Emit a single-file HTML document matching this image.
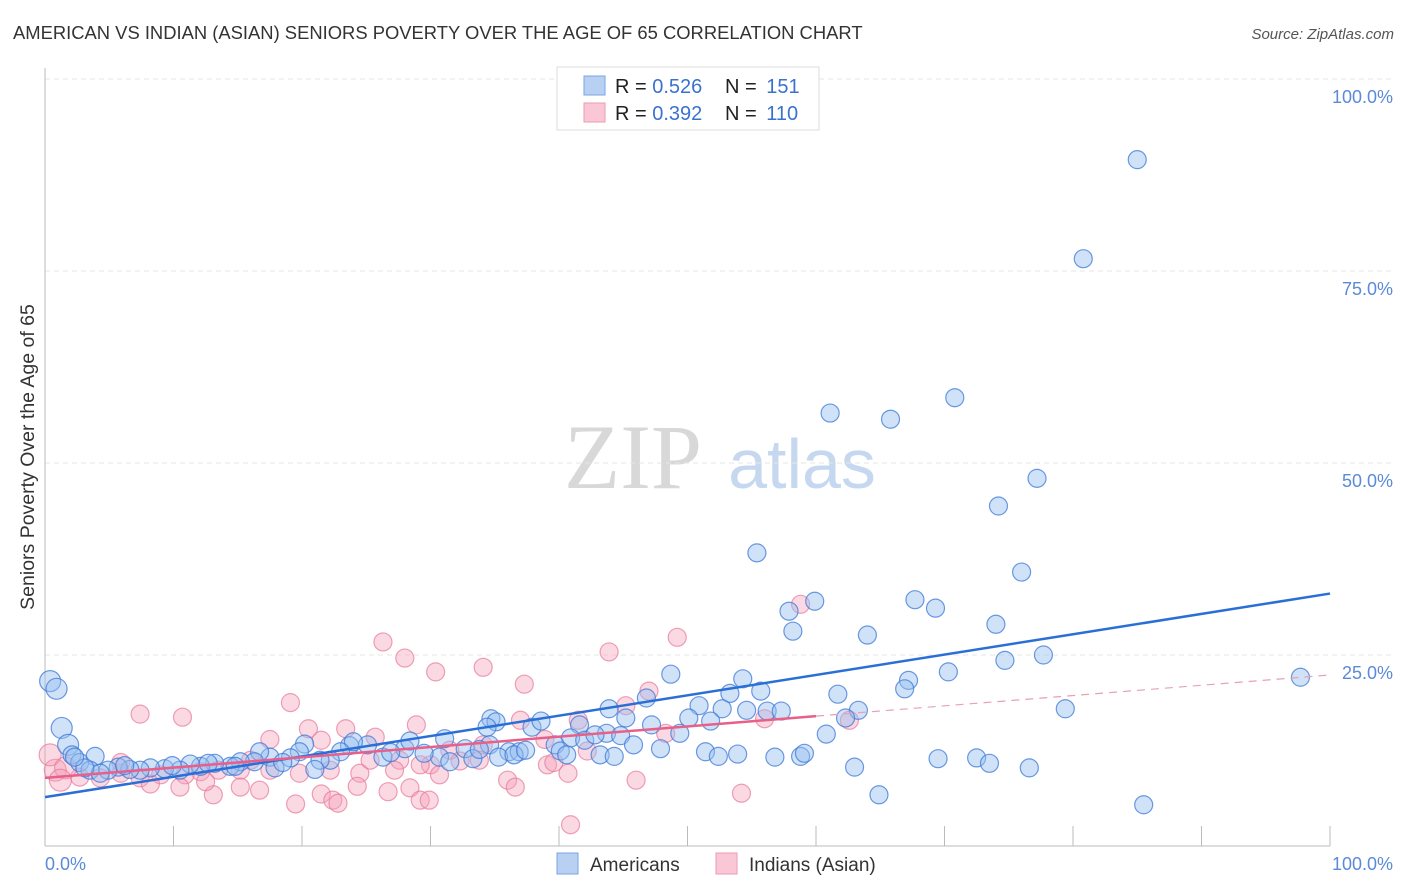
<!DOCTYPE html>
<html><head><meta charset="utf-8"><style>
body{margin:0;background:#fff;font-family:"Liberation Sans",sans-serif;}
#wrap{position:relative;width:1406px;height:892px;overflow:hidden;}
</style></head><body>
<div id="wrap">
<svg id="svg" width="1406" height="892" xmlns="http://www.w3.org/2000/svg">
<text x="13" y="39" font-size="18.4" fill="#333">AMERICAN VS INDIAN (ASIAN) SENIORS POVERTY OVER THE AGE OF 65 CORRELATION CHART</text>
<text x="1394" y="39" font-size="15" fill="#555" font-style="italic" text-anchor="end">Source: ZipAtlas.com</text>
<text x="0" y="0" transform="translate(34,457) rotate(-90)" font-size="19.5" fill="#333" text-anchor="middle">Seniors Poverty Over the Age of 65</text>
<g><text x="633" y="488" font-size="92" font-family="Liberation Serif" fill="#d8d8d8" text-anchor="middle">ZIP</text><text x="802" y="488" font-size="70" fill="#c6d8f0" text-anchor="middle">atlas</text></g>
<g id="grid"></g><g id="axes"></g><g id="pts"></g><g id="lines"></g>
<g>
<rect x="557" y="67" width="262" height="63" fill="#fff" stroke="#ddd"/>
<rect x="584" y="76" width="21" height="19" fill="#b8d0f2" stroke="#7aa5e4"/>
<rect x="584" y="103" width="21" height="19" fill="#f9c7d5" stroke="#ee9ab3"/>
<text x="615" y="93" font-size="20" fill="#222">R = <tspan fill="#3a72cf">0.526</tspan></text>
<text x="725" y="93" font-size="20" fill="#222">N = <tspan fill="#3a72cf" dx="4">151</tspan></text>
<text x="615" y="120" font-size="20" fill="#222">R = <tspan fill="#3a72cf">0.392</tspan></text>
<text x="725" y="120" font-size="20" fill="#222">N = <tspan fill="#3a72cf" dx="4">110</tspan></text>
</g>
<g>
<rect x="557" y="853" width="21" height="21" fill="#b8d0f2" stroke="#7aa5e4"/>
<text x="590" y="871" font-size="19" fill="#333">Americans</text>
<rect x="716" y="853" width="21" height="21" fill="#f9c7d5" stroke="#ee9ab3"/>
<text x="749" y="871" font-size="19" fill="#333">Indians (Asian)</text>
</g>
</svg>
</div>
<script>
const yTicks=[25,50,75,100];
const yTickLabels=["25.0%","50.0%","75.0%","100.0%"];
const xEndLabels=["0.0%","100.0%"];
const blueX=[0.4,0.9,1.3,1.8,2.1,3.9,2.7,3.5,85,80.8,70.8,61.1,65.8,77.2,74.2,55.4,76,59.9,67.7,69.3,57.9,58.2,74,64,74.7,77.7,97.7,70.3,67.2,66.9,48.7,54.3,61.7,79.4,63.3,62.3,60.8,63,64.9,69.5,72.5,73.5,76.6,85.5,55.7,53.3,52.7,54.6,56.2,57.3,50.9,50.1,51.8,49.4,46.8,43.9,45.2,47.2,43.7,44.8,45.8,47.9,51.4,52.4,53.9,56.8,58.8,59.1,34.7,35.1,34.4,37.9,38.6,41.6,40.9,39.7,42,42.8,34.6,36.1,36.9,35.3,36.5,43.2,44.3,40.1,40.6,31.1,32.7,33.3,30.7,31.5,28,28.4,26.3,25.1,23.7,24,23,22.2,20.2,19.8,19.1,17.5,16.7,16.3,15.2,14.4,13.2,12.1,11.3,10.5,9.3,8.2,7.4,6.6,5.7,4.9,4.3,3.1,2.3,17.9,21.4,21,12.7,9.9,6.2,14.8,18.5,26.9,29.5,33.8,37.4];
const blueY=[21.6,20.6,15.5,13.3,12,11.8,11,10,89.5,76.6,58.5,56.5,55.7,48,44.4,38.3,35.8,32,32.2,31.1,30.7,28.1,29,27.6,24.3,25,22.1,22.8,21.7,20.6,22.5,21.9,19.9,18,17.8,16.8,14.7,10.4,6.8,11.5,11.6,10.9,10.3,5.5,20.3,20,18,17.8,17.7,17.7,18.4,16.8,16.4,14.8,19.4,18,16.8,15.9,14.8,14.5,13.3,12.8,12.4,11.8,12.1,11.7,11.8,12.2,16.7,16.3,15.6,15.6,16.4,15.9,14.2,13.3,13.9,14.6,13.3,12.4,12.4,11.7,12,12,11.8,12.5,12,14.1,12.8,11.5,11.7,11.1,12.8,13.8,11.7,13.3,13.2,13.7,12.4,11.3,13.4,12.4,11.6,11.7,12.4,11.1,11.1,10.5,10.9,10.5,10.8,10,10.2,10.3,10,10.1,10.4,10,9.6,10.3,11.7,10.3,11.3,10.1,10.9,10.6,10.6,10.5,11,12.3,12.2,12.7,12.6];
const pinkX=[26.3,28,30.4,34.1,37.3,43.9,49.2,47,45.2,58.8,7.4,10.7,19.1,56,62.6,41.5,37,28.9,23.4,20.5,17.5,21.5,25.7,34.1,38.9,48.3,42.2,31.5,32.3,30,29.2,27.6,27.2,24.5,22.2,19.8,17.5,15.2,13.5,12.1,10.9,9,7.4,5.9,4.3,2.7,0.8,0.4,1.6,1.2,8.2,10.5,13.1,15.2,16.7,19.5,21.5,22.4,22.8,24.3,26.7,28.4,29.2,29.9,36,36.6,39.1,39.6,40.7,40.9,46,54.2,30.7,33.8,25.3,16,12.5,5.9];
const pinkY=[26.7,24.6,22.8,23.4,21.2,25.4,27.3,20.3,18.4,31.6,17.3,16.9,18.8,16.7,16.5,16.5,16.5,15.9,15.4,15.4,14,13.9,14.3,13.3,14,14.8,12.5,12.6,11.2,10.7,10.7,11.3,10,9.6,10,9.6,10,10,10,9.8,9.4,9.4,9,9.6,9,9.1,10,12,10.3,8.7,8.2,7.8,6.8,7.8,7.4,5.6,6.9,6.1,5.7,7.9,7.2,7.7,6.1,6.1,8.7,7.8,10.7,11,9.6,2.9,8.7,7,9.4,11.3,11.3,11.3,8.5,11];
const blueFit=[6.5,33];
const pinkFit=[9,22.4];
const X0=45,X1=1330,Y0=847,Y1=79;
const sx=v=>X0+v/100*(X1-X0), sy=v=>Y0-v/100*(Y0-Y1);
const NS="http://www.w3.org/2000/svg";
function mk(t,a,p){const e=document.createElementNS(NS,t);for(const k in a)e.setAttribute(k,a[k]);p.appendChild(e);return e;}
const grid=document.getElementById('grid'),axes=document.getElementById('axes'),pts=document.getElementById('pts'),lines=document.getElementById('lines');
yTicks.forEach((t,i)=>{
 const l=mk('line',{x1:45,x2:1395,y1:sy(t),y2:sy(t),stroke:'#e6e6e6','stroke-dasharray':'5,4'},grid);
 
 
 const tx=mk('text',{x:1393,y:sy(t)+24,'font-size':18,fill:'#5a8ad8','text-anchor':'end'},axes);
 tx.textContent=yTickLabels[i];
 
 
});
mk('line',{x1:45,x2:45,y1:68,y2:846,stroke:'#bbb'},axes);
mk('line',{x1:45,x2:1330,y1:846,y2:846,stroke:'#bbb'},axes);
for(let i=0;i<=10;i++){const t=mk('line',{x1:sx(i*10),x2:sx(i*10),y1:826,y2:846,stroke:'#bbb'},axes);
 
 }
let a=mk('text',{x:45,y:870,'font-size':18,fill:'#5a8ad8'},axes);a.textContent=xEndLabels[0];


a=mk('text',{x:1393,y:870,'font-size':18,fill:'#5a8ad8','text-anchor':'end'},axes);a.textContent=xEndLabels[1];


pinkX.forEach((x,i)=>{const c=mk('circle',{cx:sx(x),cy:sy(pinkY[i]),r:(x<2?11:9),fill:'rgba(244,160,185,0.4)',stroke:'rgba(232,120,155,0.7)','stroke-width':1.2},pts);
 
 });
blueX.forEach((x,i)=>{const c=mk('circle',{cx:sx(x),cy:sy(blueY[i]),r:(x<2?10.5:9),fill:'rgba(150,190,240,0.45)',stroke:'rgba(60,120,215,0.75)','stroke-width':1.2},pts);
 
 });
const bl=mk('line',{x1:sx(0),y1:sy(blueFit[0]),x2:sx(100),y2:sy(blueFit[1]),stroke:'#2a6fd6','stroke-width':2.5},lines);


const pAt=x=>pinkFit[0]+(pinkFit[1]-pinkFit[0])*x/100;
const pl=mk('line',{x1:sx(0),y1:sy(pAt(0)),x2:sx(60),y2:sy(pAt(60)),stroke:'#e8608a','stroke-width':2.5},lines);


const pd=mk('line',{x1:sx(60),y1:sy(pAt(60)),x2:sx(100),y2:sy(pAt(100)),stroke:'#e8a0b5','stroke-width':1.2,'stroke-dasharray':'8,6'},lines);


</script>
</body></html>
